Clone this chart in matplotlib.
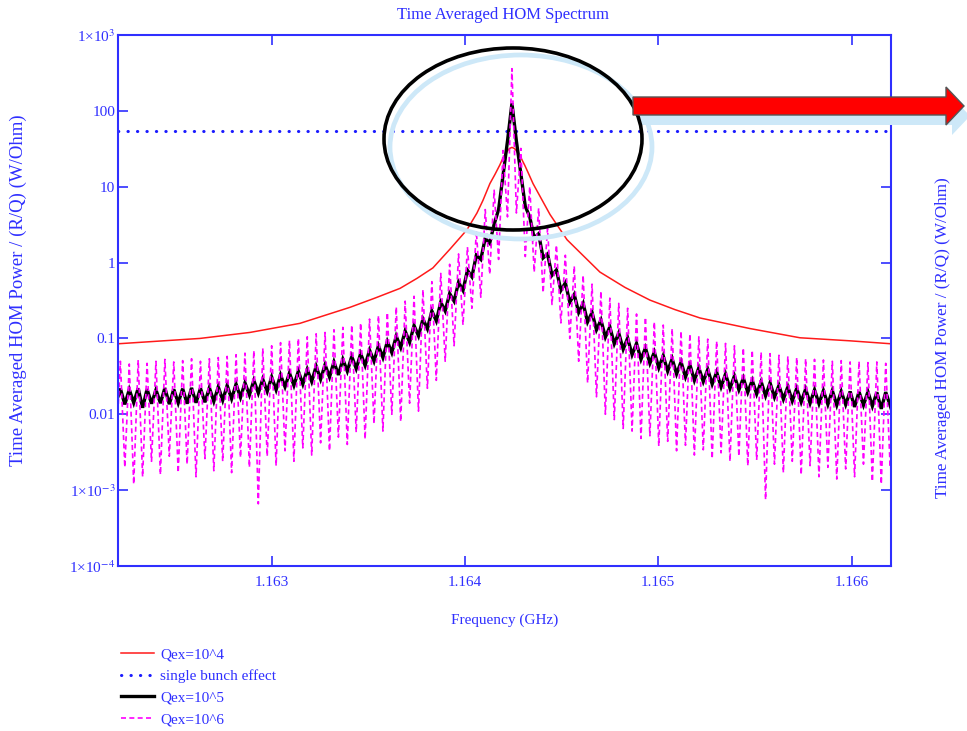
import numpy as np
import matplotlib
matplotlib.use("Agg")
import matplotlib.pyplot as plt
from matplotlib.patches import Ellipse, Polygon
from matplotlib.lines import Line2D
from matplotlib.ticker import FixedLocator, NullLocator

# ---- data ----
x_limits = (1.162205, 1.166204)
y_limits = (1e-4, 1e3)

# Qex=10^4 (red)
red_freq = [1.162205, 1.162629, 1.162888, 1.163146, 1.163405, 1.163534, 1.163664,
            1.163752, 1.163834, 1.163922, 1.164010, 1.164062, 1.164093, 1.164129,
            1.164155, 1.164181, 1.164197, 1.164217, 1.164230, 1.164243, 1.164256,
            1.164269, 1.164290, 1.164310, 1.164331, 1.164352, 1.164440, 1.164528,
            1.164698, 1.164828, 1.164957, 1.165086, 1.165216, 1.165474, 1.165733,
            1.165992, 1.166204]
red_power = [0.085, 0.100, 0.12, 0.158, 0.257, 0.34, 0.457,
             0.62, 0.85, 1.5, 2.7, 4.5, 6.6, 11,
             14.5, 19.5, 24.0, 29.0, 31.9, 33, 31.9,
             29.0, 24.0, 19.0, 14.5, 11, 4.3, 2.0,
             0.75, 0.47, 0.32, 0.24, 0.186, 0.135, 0.102,
             0.093, 0.085]

# single bunch effect (blue dotted)
single_bunch = 55.0

# comb: resonance at f_peak, points every half line spacing (peak / dip / peak ...)
f_peak = 1.164243
f_spacing = 4.604e-5
comb_index = np.arange(-89, 87)

# Qex=10^5 (black), left to right
black_power = [
    0.0140, 0.0218, 0.0135, 0.0212, 0.0142, 0.0220, 0.0122, 0.0215, 0.0138, 0.0210,
    0.0140, 0.0222, 0.0136, 0.0214, 0.0141, 0.0218, 0.0138, 0.0223, 0.0142, 0.0220,
    0.0144, 0.0224, 0.0148, 0.0230, 0.0153, 0.0240, 0.0160, 0.0250, 0.0167, 0.0260,
    0.0180, 0.0280, 0.0190, 0.0290, 0.0200, 0.0310, 0.0210, 0.0330, 0.0230, 0.0350,
    0.0240, 0.0370, 0.0250, 0.0390, 0.0270, 0.0430, 0.0290, 0.0450, 0.0310, 0.0490,
    0.0330, 0.0530, 0.0370, 0.0580, 0.0400, 0.0630, 0.0440, 0.0700, 0.0500, 0.0800,
    0.056, 0.091, 0.065, 0.107, 0.076, 0.125, 0.089, 0.148, 0.108, 0.180,
    0.134, 0.230, 0.170, 0.300, 0.230, 0.390, 0.310, 0.550, 0.430, 0.790,
    0.650, 1.25, 1.10, 2.10, 1.80, 3.2, 5.0, 14.0, 40.0,
    126.0,
    40.0, 15.0, 5.5, 4.0, 2.1, 2.4, 1.15, 1.3, 0.68, 0.80,
    0.43, 0.54, 0.30, 0.38, 0.22, 0.29, 0.165, 0.22, 0.13, 0.175,
    0.104, 0.142, 0.085, 0.118, 0.072, 0.101, 0.061, 0.086, 0.053, 0.075,
    0.047, 0.066, 0.041, 0.059, 0.037, 0.054, 0.034, 0.049, 0.031, 0.045,
    0.028, 0.041, 0.027, 0.039, 0.025, 0.036, 0.023, 0.034, 0.022, 0.032,
    0.021, 0.030, 0.0195, 0.028, 0.0185, 0.027, 0.0175, 0.026, 0.0168, 0.024,
    0.0158, 0.023, 0.0150, 0.022, 0.0145, 0.0215, 0.0140, 0.0210, 0.0138, 0.0205,
    0.0135, 0.0205, 0.0132, 0.0200, 0.0134, 0.0200, 0.0125, 0.0198, 0.0132, 0.0198,
    0.0128, 0.0195, 0.0118, 0.0196, 0.0130, 0.0195,
]

# Qex=10^6 (magenta dashed), left to right
magenta_power = [
    0.0030, 0.050, 0.0020, 0.046, 0.0012, 0.052, 0.0015, 0.047, 0.0024, 0.050,
    0.0016, 0.053, 0.0028, 0.049, 0.0017, 0.051, 0.0022, 0.054, 0.0015, 0.050,
    0.0026, 0.054, 0.0018, 0.056, 0.0024, 0.058, 0.0017, 0.061, 0.0027, 0.064,
    0.0020, 0.069, 0.00066, 0.074, 0.0028, 0.080, 0.0021, 0.088, 0.0033, 0.094,
    0.0024, 0.100, 0.0036, 0.105, 0.0029, 0.115, 0.0042, 0.12, 0.0033, 0.13,
    0.0050, 0.14, 0.0040, 0.15, 0.0058, 0.16, 0.0047, 0.18, 0.0075, 0.20,
    0.0060, 0.22, 0.010, 0.26, 0.0080, 0.31, 0.014, 0.36, 0.011, 0.44,
    0.022, 0.56, 0.028, 0.72, 0.05, 0.95, 0.08, 1.3, 0.15, 1.6,
    0.25, 2.6, 0.35, 5.0, 0.7, 9.0, 1.1, 30.0, 4.0,
    360.0,
    4.5, 32.0, 1.2, 10.0, 0.75, 5.2, 0.40, 2.8, 0.28, 1.7,
    0.16, 1.25, 0.10, 0.90, 0.05, 0.68, 0.026, 0.52, 0.017, 0.42,
    0.010, 0.34, 0.0085, 0.29, 0.0065, 0.25, 0.0060, 0.21, 0.0048, 0.19,
    0.0052, 0.165, 0.0038, 0.15, 0.0044, 0.135, 0.0033, 0.125, 0.0039, 0.115,
    0.0029, 0.105, 0.0034, 0.098, 0.0026, 0.092, 0.0031, 0.086, 0.0024, 0.080,
    0.0028, 0.075, 0.0021, 0.070, 0.0025, 0.066, 0.00075, 0.063, 0.0022, 0.060,
    0.0017, 0.058, 0.0024, 0.056, 0.0016, 0.054, 0.0021, 0.053, 0.0015, 0.052,
    0.0020, 0.050, 0.0014, 0.051, 0.0019, 0.049, 0.0015, 0.050, 0.0022, 0.048,
    0.0013, 0.049, 0.0012, 0.047, 0.0020, 0.048,
]

x_ticks = [1.163, 1.164, 1.165, 1.166]
x_tick_labels = ["1.163", "1.164", "1.165", "1.166"]
y_ticks = [1e-4, 1e-3, 1e-2, 1e-1, 1, 10, 100, 1000]
y_tick_labels = ["1×10$^{-4}$", "1×10$^{-3}$", "0.01", "0.1", "1", "10", "100", "1×10$^{3}$"]
legend_labels = ["Qex=10^4", "single bunch effect", "Qex=10^5", "Qex=10^6"]

# ---- figure ----
plt.rcParams["font.family"] = ["Liberation Serif", "DejaVu Serif"]
plt.rcParams["mathtext.fontset"] = "stix"
blue = "#2f2fff"
W, H = 967, 731

fig = plt.figure(figsize=(W / 100, H / 100), dpi=100)
ax = fig.add_axes([118 / W, 1 - 566 / H, (891 - 118) / W, (566 - 35) / H])

comb_freq = f_peak + comb_index * f_spacing / 2

ax.plot(red_freq, red_power, color="#ff1a1a", lw=1.1)
ax.axhline(single_bunch, color="#1a1aff", lw=2.2, linestyle=(0, (0.1, 3.0)),
           dash_capstyle="round")
ax.plot(comb_freq, black_power, color="black", lw=2.4, solid_joinstyle="miter")
ax.plot(comb_freq, magenta_power, color="#ff00ff", lw=1.2, linestyle=(0, (3, 2)))

ax.set_yscale("log")
ax.set_xlim(*x_limits)
ax.set_ylim(*y_limits)
ax.xaxis.set_major_locator(FixedLocator(x_ticks))
ax.set_xticklabels(x_tick_labels)
ax.yaxis.set_major_locator(FixedLocator(y_ticks))
ax.yaxis.set_minor_locator(NullLocator())
ax.set_yticklabels(y_tick_labels)
ax.tick_params(which="both", direction="in", length=7, width=1.2, colors=blue,
               top=True, right=True, labelsize=11, pad=2)
ax.tick_params(axis="x", pad=7)
for s in ax.spines.values():
    s.set_color(blue)
    s.set_linewidth(1.5)

# titles / labels
ylab = "Time Averaged HOM Power / (R/Q) (W/Ohm)"
fig.text(503 / W, 1 - 15 / H, "Time Averaged HOM Spectrum", color=blue, fontsize=12,
         ha="center", va="center")
fig.text(505 / W, 1 - 620 / H, "Frequency (GHz)", color=blue, fontsize=11,
         ha="center", va="center")
fig.text(18 / W, 1 - 290 / H, ylab, color=blue, fontsize=13.5, rotation=90,
         ha="center", va="center")
fig.text(943 / W, 1 - 338 / H, ylab, color=blue, fontsize=12.3, rotation=90,
         ha="center", va="center")


def px(x, y):
    return (x / W, 1 - y / H)


# highlight ellipse and arrow
fig.patches.append(Ellipse(px(521, 147), 262 / W, 184 / H, fill=False,
                           ec="#cde8f8", lw=3.4, transform=fig.transFigure, zorder=5))
fig.patches.append(Ellipse(px(513, 139), 258 / W, 182 / H, fill=False,
                           ec="black", lw=2.6, transform=fig.transFigure, zorder=6))
arrow = [(633, 97), (946, 97), (946, 87), (964, 106), (946, 125), (946, 115), (633, 115)]
shadow = [(x + 6, y + 10) for x, y in arrow]
fig.patches.append(Polygon([px(x, y) for x, y in shadow], closed=True, fc="#cde8f8",
                           ec="none", transform=fig.transFigure, zorder=5))
fig.patches.append(Polygon([px(x, y) for x, y in arrow], closed=True, fc="#ff0000",
                           ec="#555555", lw=1.0, transform=fig.transFigure, zorder=7))

# legend below the plot
handles = [
    Line2D([], [], color="#ff1a1a", lw=1.1),
    Line2D([], [], color="#1a1aff", lw=2.2, linestyle=(0, (0.1, 3.0)), dash_capstyle="round"),
    Line2D([], [], color="black", lw=2.4),
    Line2D([], [], color="#ff00ff", lw=1.2, linestyle=(0, (3, 2))),
]
fig.legend(handles, legend_labels, loc="upper left", bbox_to_anchor=px(113, 640),
           frameon=False, fontsize=11, handlelength=2.2, handletextpad=0.4,
           labelspacing=0.52, labelcolor=blue, borderpad=0)

fig.savefig("out.png", dpi=100)
